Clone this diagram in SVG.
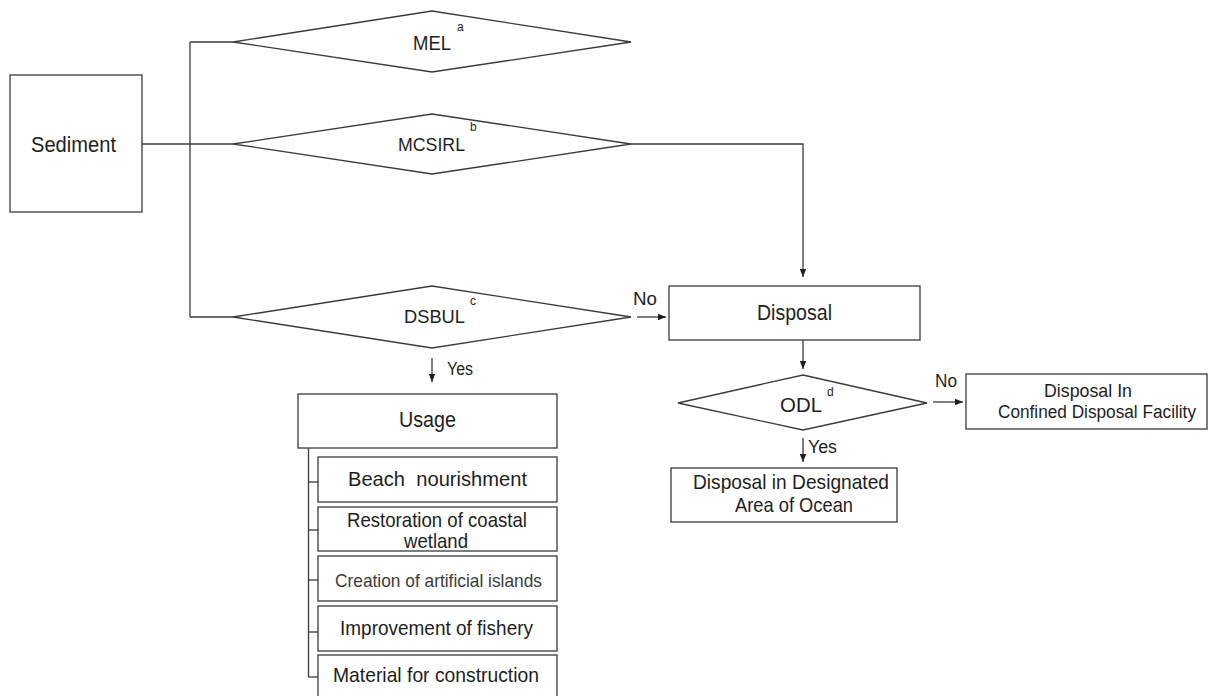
<svg xmlns="http://www.w3.org/2000/svg" width="1213" height="696" viewBox="0 0 1213 696">
<defs>
<style>
.box{fill:#fff;stroke:#3a3a3a;stroke-width:1.3}
.ln{fill:none;stroke:#3a3a3a;stroke-width:1.3}
.t{font-family:"Liberation Sans",Arial,sans-serif;fill:#1e1e1e}
.sup{font-family:"Liberation Sans",Arial,sans-serif;fill:#1e1e1e;font-size:12px}
</style>
<marker id="ah" markerUnits="userSpaceOnUse" markerWidth="8" markerHeight="8" refX="8" refY="4" orient="auto">
<path d="M0,0.8 L8,4 L0,7.2 z" fill="#1e1e1e"/>
</marker>
</defs>
<rect width="1213" height="696" fill="#fff"/>

<g id="connectors">
<path class="ln" d="M142,144 H233"/>
<path class="ln" d="M190,42 V317"/>
<path class="ln" d="M190,42 H233"/>
<path class="ln" d="M190,317 H233"/>
<path class="ln" d="M631,144 H803 V277" marker-end="url(#ah)"/>
<path class="ln" d="M637,317 H666" marker-end="url(#ah)"/>
<path class="ln" d="M432,358 V382" marker-end="url(#ah)"/>
<path class="ln" d="M803,340 V369" marker-end="url(#ah)"/>
<path class="ln" d="M933,402 H963" marker-end="url(#ah)"/>
<path class="ln" d="M803,438 V462" marker-end="url(#ah)"/>
<path class="ln" d="M308.5,448 V677"/>
<path class="ln" d="M308.5,482 H318"/>
<path class="ln" d="M308.5,530 H318"/>
<path class="ln" d="M308.5,580 H318"/>
<path class="ln" d="M308.5,632 H318"/>
<path class="ln" d="M308.5,677 H318"/>
<text class="t" x="633" y="305" font-size="18" textLength="24" lengthAdjust="spacingAndGlyphs">No</text>
<text class="t" x="447" y="375" font-size="18" textLength="26" lengthAdjust="spacingAndGlyphs">Yes</text>
<text class="t" x="935" y="387" font-size="18" textLength="22" lengthAdjust="spacingAndGlyphs">No</text>
<text class="t" x="808" y="453" font-size="18" textLength="29" lengthAdjust="spacingAndGlyphs">Yes</text>
</g>

<g id="sediment">
<rect class="box" x="10" y="75" width="132" height="137"/>
<text class="t" x="31" y="152" font-size="22" textLength="85" lengthAdjust="spacingAndGlyphs">Sediment</text>
</g>

<g id="mel">
<polygon class="box" points="233,42 432,11 631,42 432,72"/>
<text class="t" x="413" y="50" font-size="20" textLength="38" lengthAdjust="spacingAndGlyphs">MEL</text>
<text class="sup" x="457" y="31">a</text>
</g>

<g id="mcsirl">
<polygon class="box" points="233,144 432,114 631,144 432,174"/>
<text class="t" x="398" y="151" font-size="18.5" textLength="67" lengthAdjust="spacingAndGlyphs">MCSIRL</text>
<text class="sup" x="470" y="131">b</text>
</g>

<g id="dsbul">
<polygon class="box" points="233,317 432,286 631,317 432,348"/>
<text class="t" x="404" y="323" font-size="19" textLength="61" lengthAdjust="spacingAndGlyphs">DSBUL</text>
<text class="sup" x="470" y="305">c</text>
</g>

<g id="disposal">
<rect class="box" x="669" y="286" width="251" height="54"/>
<text class="t" x="757" y="320" font-size="22" textLength="75" lengthAdjust="spacingAndGlyphs">Disposal</text>
</g>

<g id="odl">
<polygon class="box" points="678,403 803,375 927,403 803,430"/>
<text class="t" x="780" y="412" font-size="21" textLength="42" lengthAdjust="spacingAndGlyphs">ODL</text>
<text class="sup" x="827" y="396">d</text>
</g>

<g id="cdf">
<rect class="box" x="966" y="374" width="241" height="55"/>
<text class="t" x="1044" y="397" font-size="19" textLength="88" lengthAdjust="spacingAndGlyphs">Disposal In</text>
<text class="t" x="998" y="418" font-size="18" textLength="198" lengthAdjust="spacingAndGlyphs">Confined Disposal Facility</text>
</g>

<g id="ocean">
<rect class="box" x="671" y="468" width="226" height="54"/>
<text class="t" x="693" y="489" font-size="21" textLength="196" lengthAdjust="spacingAndGlyphs">Disposal in Designated</text>
<text class="t" x="735" y="512" font-size="21" textLength="118" lengthAdjust="spacingAndGlyphs">Area of Ocean</text>
</g>

<g id="usage">
<rect class="box" x="298" y="394" width="259" height="54"/>
<text class="t" x="399" y="427" font-size="22" textLength="57" lengthAdjust="spacingAndGlyphs">Usage</text>
</g>

<g id="beach">
<rect class="box" x="318" y="457" width="239" height="45"/>
<text class="t" x="348" y="486" font-size="21" textLength="179" lengthAdjust="spacingAndGlyphs" xml:space="preserve">Beach  nourishment</text>
</g>

<g id="restoration">
<rect class="box" x="318" y="507" width="239" height="44"/>
<text class="t" x="347" y="527" font-size="21" textLength="180" lengthAdjust="spacingAndGlyphs">Restoration of coastal</text>
<text class="t" x="404" y="548" font-size="21" textLength="64" lengthAdjust="spacingAndGlyphs">wetland</text>
</g>

<g id="creation">
<rect class="box" x="318" y="556" width="239" height="45"/>
<text class="t" x="335" y="587" font-size="19" textLength="207" lengthAdjust="spacingAndGlyphs" style="fill:#3c3c3c">Creation of artificial islands</text>
</g>

<g id="fishery">
<rect class="box" x="318" y="606" width="239" height="45"/>
<text class="t" x="340" y="635" font-size="21" textLength="193" lengthAdjust="spacingAndGlyphs">Improvement of fishery</text>
</g>

<g id="material">
<rect class="box" x="318" y="655" width="239" height="45"/>
<text class="t" x="333" y="682" font-size="21" textLength="206" lengthAdjust="spacingAndGlyphs">Material for construction</text>
</g>
</svg>
